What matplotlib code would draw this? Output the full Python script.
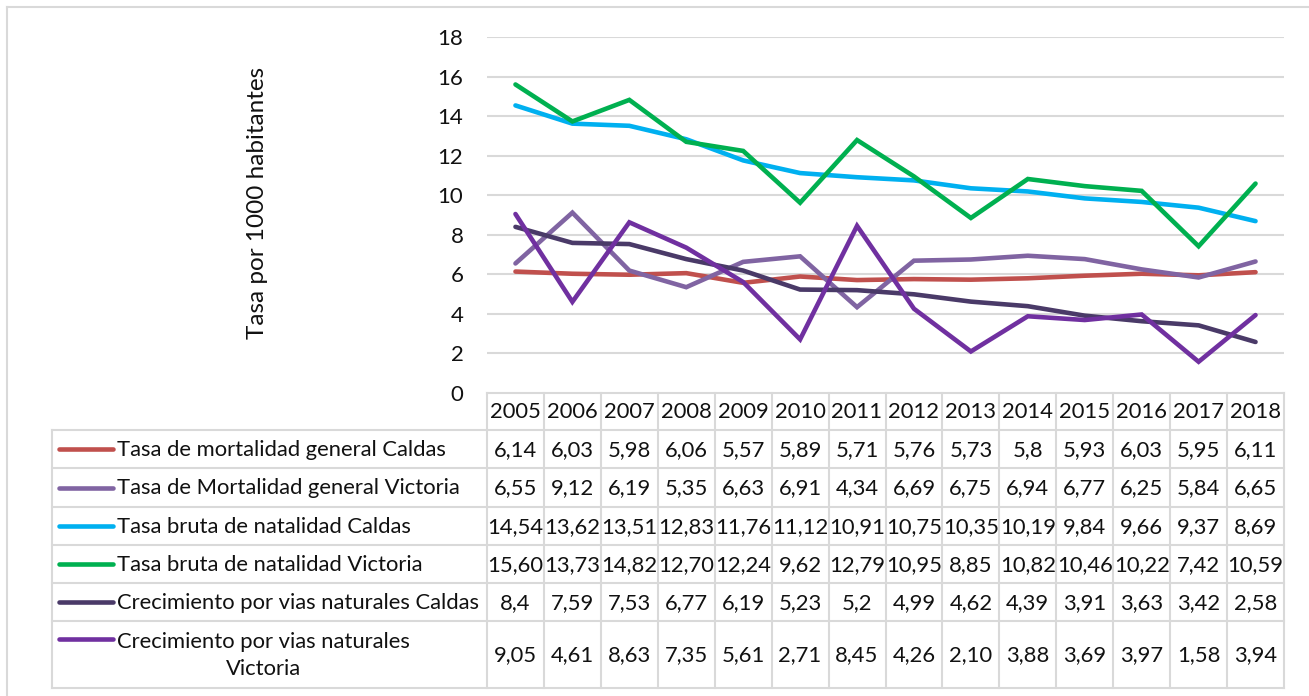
import matplotlib
matplotlib.use("Agg")
import matplotlib.pyplot as plt
from matplotlib.lines import Line2D

years = ["2005", "2006", "2007", "2008", "2009", "2010", "2011",
         "2012", "2013", "2014", "2015", "2016", "2017", "2018"]

series_names = [
    "Tasa de mortalidad general Caldas",
    "Tasa de Mortalidad general Victoria",
    "Tasa bruta de natalidad Caldas",
    "Tasa bruta de natalidad Victoria",
    "Crecimiento por vias naturales Caldas",
    "Crecimiento por vias naturales\nVictoria",
]

mort_caldas = [6.14, 6.03, 5.98, 6.06, 5.57, 5.89, 5.71, 5.76, 5.73, 5.8, 5.93, 6.03, 5.95, 6.11]
mort_victoria = [6.55, 9.12, 6.19, 5.35, 6.63, 6.91, 4.34, 6.69, 6.75, 6.94, 6.77, 6.25, 5.84, 6.65]
nat_caldas = [14.54, 13.62, 13.51, 12.83, 11.76, 11.12, 10.91, 10.75, 10.35, 10.19, 9.84, 9.66, 9.37, 8.69]
nat_victoria = [15.60, 13.73, 14.82, 12.70, 12.24, 9.62, 12.79, 10.95, 8.85, 10.82, 10.46, 10.22, 7.42, 10.59]
crec_caldas = [8.4, 7.59, 7.53, 6.77, 6.19, 5.23, 5.2, 4.99, 4.62, 4.39, 3.91, 3.63, 3.42, 2.58]
crec_victoria = [9.05, 4.61, 8.63, 7.35, 5.61, 2.71, 8.45, 4.26, 2.10, 3.88, 3.69, 3.97, 1.58, 3.94]

# labels as shown in the data table
mort_caldas_lbl = ["6,14", "6,03", "5,98", "6,06", "5,57", "5,89", "5,71", "5,76", "5,73", "5,8", "5,93", "6,03", "5,95", "6,11"]
mort_victoria_lbl = ["6,55", "9,12", "6,19", "5,35", "6,63", "6,91", "4,34", "6,69", "6,75", "6,94", "6,77", "6,25", "5,84", "6,65"]
nat_caldas_lbl = ["14,54", "13,62", "13,51", "12,83", "11,76", "11,12", "10,91", "10,75", "10,35", "10,19", "9,84", "9,66", "9,37", "8,69"]
nat_victoria_lbl = ["15,60", "13,73", "14,82", "12,70", "12,24", "9,62", "12,79", "10,95", "8,85", "10,82", "10,46", "10,22", "7,42", "10,59"]
crec_caldas_lbl = ["8,4", "7,59", "7,53", "6,77", "6,19", "5,23", "5,2", "4,99", "4,62", "4,39", "3,91", "3,63", "3,42", "2,58"]
crec_victoria_lbl = ["9,05", "4,61", "8,63", "7,35", "5,61", "2,71", "8,45", "4,26", "2,10", "3,88", "3,69", "3,97", "1,58", "3,94"]

yticks = [0, 2, 4, 6, 8, 10, 12, 14, 16, 18]
ylabel = "Tasa por 1000 habitantes"

colors = ["#C0504D", "#8064A2", "#00B0F0", "#00B050", "#4A3A68", "#7030A0"]

values = [mort_caldas, mort_victoria, nat_caldas, nat_victoria, crec_caldas, crec_victoria]
labels = [mort_caldas_lbl, mort_victoria_lbl, nat_caldas_lbl, nat_victoria_lbl, crec_caldas_lbl, crec_victoria_lbl]

plt.rcParams['font.family'] = ['Lato', 'DejaVu Sans']
TXT = "#111111"
GRID = "#D9D9D9"
FS = 16
FS_TAB = 15.8

W, H = 1309, 696
fig = plt.figure(figsize=(W / 100, H / 100), dpi=100)

def fx(px):
    return px / W

def fy(py):
    return 1 - py / H

# pixel geometry
X0, X1 = 487, 1284
Y_TOP, Y_ZERO = 37, 393
ncol = len(years)
colw = (X1 - X0) / ncol

# ---------- chart axes ----------
ax = fig.add_axes([fx(X0), fy(Y_ZERO), fx(X1) - fx(X0), fy(Y_TOP) - fy(Y_ZERO)])
ax.set_xlim(-0.5, ncol - 0.5)
ax.set_ylim(0, 18)
ax.set_yticks(yticks)
ax.set_yticklabels([str(t) for t in yticks], fontsize=FS, color=TXT)
ax.tick_params(axis='y', length=0, pad=17)
ax.set_xticks([])
for s in ax.spines.values():
    s.set_visible(False)
for t in yticks[1:]:
    ax.axhline(t, color=GRID, lw=1.5, zorder=0)

xs = list(range(ncol))
for vals, c in zip(values, colors):
    ax.plot(xs, vals, color=c, lw=3.3, solid_capstyle='round', solid_joinstyle='miter', zorder=3)

fig.text(fx(258), fy(203), ylabel, rotation=90, ha='center', va='center', fontsize=17.5, color=TXT)

# ---------- data table axes (pixel coordinates) ----------
tx = fig.add_axes([0, 0, 1, 1])
tx.set_xlim(0, W)
tx.set_ylim(H, 0)
tx.axis('off')

TL = 52
row_edges = [393, 430, 468, 507, 545, 583, 621, 688]

# horizontal lines
tx.plot([X0, X1], [row_edges[0], row_edges[0]], color=GRID, lw=1.5)
for yb in row_edges[1:]:
    tx.plot([TL, X1], [yb, yb], color=GRID, lw=1.5)
# vertical lines
tx.plot([TL, TL], [row_edges[1], row_edges[-1]], color=GRID, lw=1.5)
for i in range(ncol + 1):
    xv = X0 + i * colw
    tx.plot([xv, xv], [row_edges[0], row_edges[-1]], color=GRID, lw=1.5)

# header
for i, yr in enumerate(years):
    tx.text(X0 + (i + 0.5) * colw, (row_edges[0] + row_edges[1]) / 2 + 1, yr,
            ha='center', va='center', fontsize=FS_TAB, color=TXT)

# rows
for r, (name, lbls, c) in enumerate(zip(series_names, labels, colors)):
    ytop, ybot = row_edges[r + 1], row_edges[r + 2]
    yc = (ytop + ybot) / 2
    if "\n" in name:
        y_line = ytop + 18
        tx.text(117, yc + 1, name, ha='left', va='center', multialignment='center',
                fontsize=FS_TAB, color=TXT, linespacing=1.4)
    else:
        y_line = yc
        tx.text(117, yc + 1, name, ha='left', va='center', fontsize=FS_TAB, color=TXT)
    tx.add_line(Line2D([59, 113], [y_line, y_line], color=c, lw=3.3, solid_capstyle='round'))
    for i, lb in enumerate(lbls):
        tx.text(X0 + (i + 0.5) * colw, yc + 1, lb, ha='center', va='center', fontsize=FS_TAB, color=TXT)

# outer chart border (top & left visible)
tx.plot([7, W], [7, 7], color=GRID, lw=1.5)
tx.plot([7, 7], [7, H], color=GRID, lw=1.5)

fig.savefig("out.png", dpi=100)
